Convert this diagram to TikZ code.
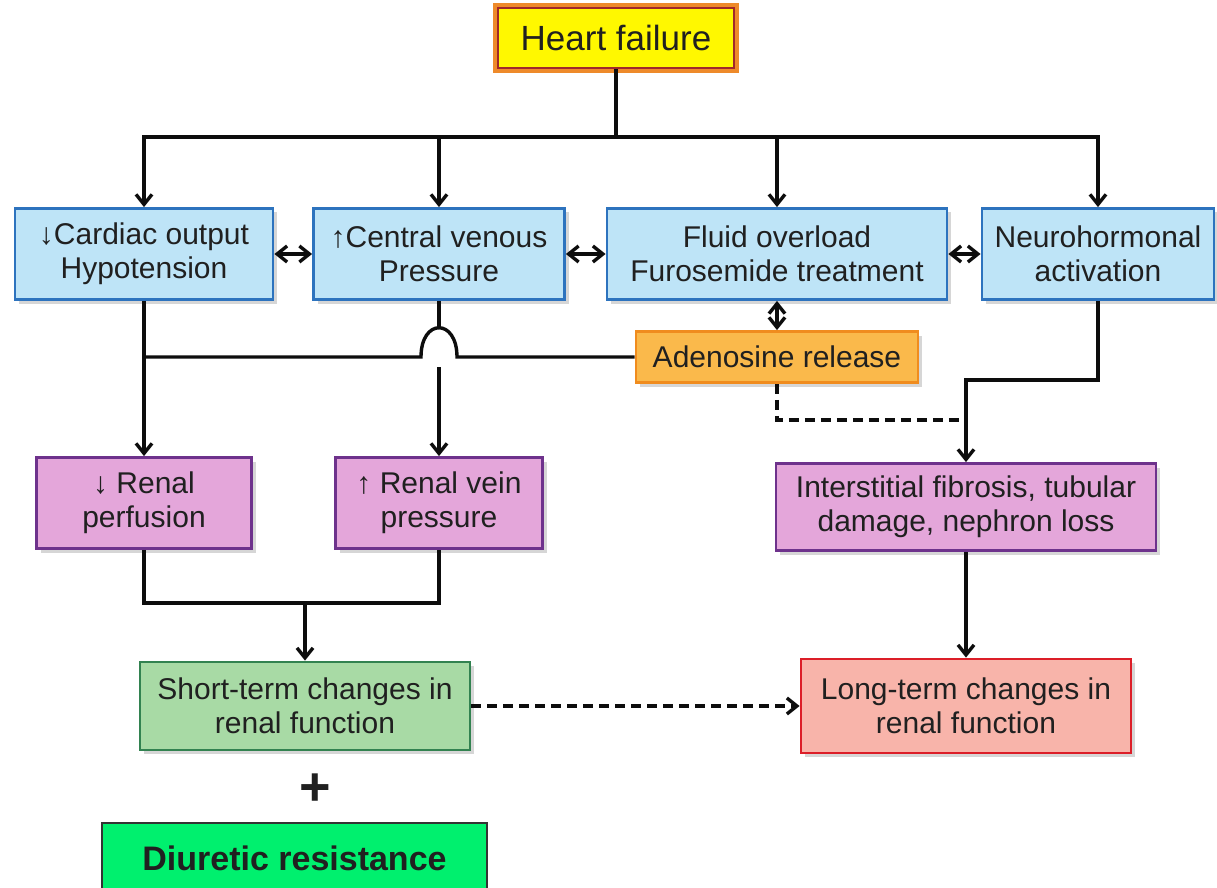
\documentclass[tikz,border=0pt]{standalone}
\usepackage{fontspec}
\setmainfont{Liberation Sans}
\usetikzlibrary{arrows.meta}
\usetikzlibrary{shadows}

\definecolor{txtgray}{HTML}{202020}
\definecolor{bluefill}{HTML}{BEE4F7}
\definecolor{blueline}{HTML}{2D73BE}
\definecolor{pinkfill}{HTML}{E4A6DA}
\definecolor{pinkline}{HTML}{6E328C}
\definecolor{adfill}{HTML}{FAB94B}
\definecolor{adline}{HTML}{F08C1E}
\definecolor{stfill}{HTML}{A8DAA5}
\definecolor{stline}{HTML}{328250}
\definecolor{ltfill}{HTML}{F8B4AA}
\definecolor{ltline}{HTML}{DC1E28}
\definecolor{drfill}{HTML}{00F06E}
\definecolor{hfyellow}{HTML}{FFF800}
\definecolor{hforange}{HTML}{EE8A2A}
\definecolor{hfred}{HTML}{A0282A}

\begin{document}
\begin{tikzpicture}[x=0.5pt, y=-0.5pt,
    cbox/.style={line width=1.4pt, minimum height=45.5pt, inner sep=0pt, align=center,
      text=txtgray, font=\fontsize{15}{17}\selectfont,
      drop shadow={shadow xshift=2pt, shadow yshift=-2pt, opacity=0.45, fill=black!35}},
    bluebox/.style={cbox, fill=bluefill, draw=blueline},
    pinkbox/.style={cbox, fill=pinkfill, draw=pinkline},
    adbox/.style={cbox, fill=adfill, draw=adline},
    stbox/.style={cbox, fill=stfill, draw=stline},
    ltbox/.style={cbox, fill=ltfill, draw=ltline},
    hfbox/.style={cbox, fill=hfyellow, draw=hfred, line width=1pt,
      preaction={draw=hforange, line width=5pt}, font=\fontsize{17.5}{20}\selectfont},
    wire/.style={line width=1.7pt, black!95},
    arr/.style={wire, -{Straight Barb[length=5pt, width=8pt]}},
    dbl/.style={wire, {Straight Barb[length=5pt, width=8pt]}-{Straight Barb[length=5pt, width=8pt]}},
    dashline/.style={dash pattern=on 5pt off 3pt}]

  \clip (0,0) rectangle (1217,888);
  \fill [white] (0,0) rectangle (1217,888);

  % boxes
  \node [hfbox, minimum width=118pt, minimum height=30pt] (hf) at (616,38) {Heart failure};

  \node [bluebox, minimum width=129pt] (co) at (144,254) {↓Cardiac output\\Hypotension};
  \node [bluebox, minimum width=125.5pt] (cvp) at (439,254) {↑Central venous\\Pressure};
  \node [bluebox, minimum width=170pt] (fo) at (777,254) {Fluid overload\\Furosemide treatment};
  \node [bluebox, minimum width=116pt] (nh) at (1098,254) {Neurohormonal\\activation};

  \node [adbox, minimum width=141pt, minimum height=25.5pt] (ad) at (777,357) {Adenosine release};

  \node [pinkbox, minimum width=107.5pt] (rp) at (144,503) {↓ Renal\\perfusion};
  \node [pinkbox, minimum width=103.5pt] (rv) at (439,503) {↑ Renal vein\\pressure};
  \node [pinkbox, minimum width=190pt, minimum height=43.5pt] (ifb) at (966,507) {Interstitial fibrosis, tubular\\damage, nephron loss};

  \node [stbox, minimum width=165pt, minimum height=44pt] (st) at (305,706) {Short-term changes in\\renal function};
  \node [ltbox, minimum width=165pt, minimum height=47pt] (lt) at (966,706) {Long-term changes in\\renal function};

  \node [text=txtgray, font=\fontsize{27}{27}\bfseries] (plus) at (315,790) {+};
  \node [fill=drfill, draw=black!80, line width=1pt, minimum width=192.5pt, minimum height=35pt,
    font=\fontsize{17}{20}\bfseries, text=txtgray] (dr) at (294.5,858) {Diuretic resistance};

  % junction points
  \coordinate (bus) at (616,137);
  \coordinate (hopr) at (457,357);
  \coordinate (hopl) at (421,357);
  \coordinate (hopt) at (439,328);
  \coordinate (hopb) at (439,367);
  \coordinate (coj) at (144,357);
  \coordinate (nhk) at (1098,380);
  \coordinate (ifk) at (966,380);
  \coordinate (adk) at (966,420);
  \coordinate (sj) at (305,603);

  % heart failure to the four causes
  \draw [wire] (hf.south) -- (bus);
  \draw [arr] (bus) -| (co.north);
  \draw [arr] (bus) -| (cvp.north);
  \draw [arr] (bus) -| (fo.north);
  \draw [arr] (bus) -| (nh.north);

  \draw [dbl] (co) -- (cvp);
  \draw [dbl] (cvp) -- (fo);
  \draw [dbl] (fo) -- (nh);
  \draw [dbl] (fo) -- (ad);

  % adenosine line hops over the venous pressure line
  \draw [wire] (ad.west) -- (hopr) .. controls +(0,-39) and +(0,-39) .. (hopl) -- (coj);
  \draw [wire] (cvp.south) -- (hopt);
  \draw [arr] (hopb) -- (rv.north);
  \draw [arr] (co.south) -- (rp.north);

  \draw [arr] (nh.south) -- (nhk) -- (ifk) -- (ifb.north);
  \draw [wire, dashline] (ad.south) |- (adk);
  \draw [arr] (ifb.south) -- (lt.north);

  \draw [wire] (rp.south) |- (sj) -| (rv.south);
  \draw [arr] (sj) -- (st.north);
  \draw [arr, dashline] (st) -- (lt);
\end{tikzpicture}
\end{document}
